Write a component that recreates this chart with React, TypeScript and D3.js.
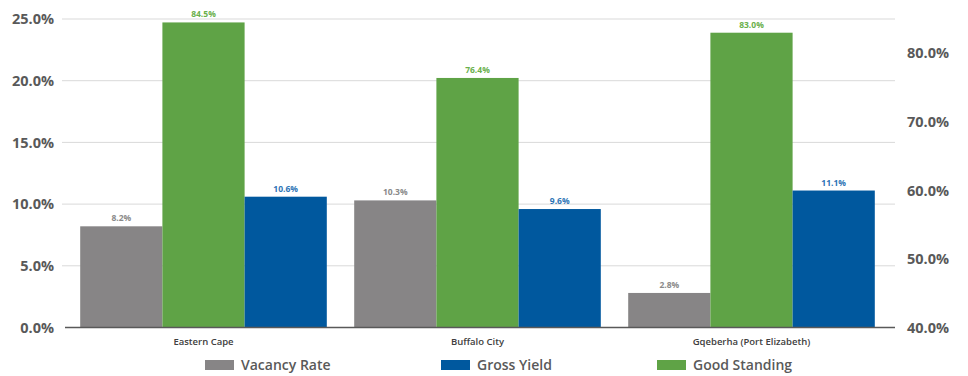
import React from "react";
import * as d3 from "d3";

const categories = ["Eastern Cape", "Buffalo City", "Gqeberha (Port Elizabeth)"];
const vacancyRate = [8.2, 10.3, 2.8];
const goodStanding = [84.5, 76.4, 83.0];
const grossYield = [10.6, 9.6, 11.1];
const leftTicks = [0, 5, 10, 15, 20, 25];
const rightTicks = [40, 50, 60, 70, 80];

const W = 968;
const H = 376;
const FONT = "'Open Sans', sans-serif";

const GRAY = "#878586";
const GREEN = "#5fa346";
const BLUE = "#00589e";

export default function App() {
  const x0 = d3.scaleBand<string>().domain(categories).range([66.5, 888.5]).paddingInner(0.1).paddingOuter(0.05);
  const series = [
    { key: "vac", values: vacancyRate, color: GRAY, label: "#8a8a8a", axis: "left" },
    { key: "good", values: goodStanding, color: GREEN, label: "#6ab04c", axis: "right" },
    { key: "gross", values: grossYield, color: BLUE, label: "#2e75b6", axis: "left" },
  ];
  const x1 = d3.scaleBand<string>().domain(series.map((s) => s.key)).range([0, x0.bandwidth()]).padding(0);
  const yL = d3.scaleLinear().domain([0, 25]).range([327.5, 19]);
  const yR = d3.scaleLinear().domain([40, 85]).range([327.5, 19]);
  const fmt = (v: number) => d3.format(".1f")(v) + "%";

  const legend = [
    { name: "Vacancy Rate", color: GRAY, x: 205 },
    { name: "Gross Yield", color: BLUE, x: 441 },
    { name: "Good Standing", color: GREEN, x: 657 },
  ];

  return (
    <div style={{ position: "absolute", left: 0, top: 0 }}>
      <svg width={W} height={H} style={{ display: "block", background: "#fff" }}>
        {leftTicks.filter((t) => t > 0).map((t) => (
          <line key={t} x1={62} x2={895} y1={yL(t)} y2={yL(t)} stroke="#d9d9d9" strokeWidth={1} />
        ))}
        {categories.map((c, i) => (
          <g key={c} transform={`translate(${x0(c)},0)`}>
            {series.map((s) => {
              const y = s.axis === "left" ? yL : yR;
              const v = s.values[i];
              const top = y(v);
              const bx = x1(s.key) as number;
              return (
                <g key={s.key}>
                  <rect x={bx} y={top} width={x1.bandwidth()} height={327.5 - top} fill={s.color} />
                  <text
                    x={bx + x1.bandwidth() / 2}
                    y={top - 5}
                    textAnchor="middle"
                    fontFamily={FONT}
                    fontWeight={700}
                    fontSize={8.5}
                    fill={s.label}
                  >
                    {fmt(v)}
                  </text>
                </g>
              );
            })}
            <text
              x={x0.bandwidth() / 2}
              y={344.5}
              textAnchor="middle"
              fontFamily={FONT}
              fontWeight={600}
              fontSize={9.5}
              fill="#404040"
            >
              {c}
            </text>
          </g>
        ))}
        <line x1={65} x2={895} y1={327.5} y2={327.5} stroke="#595959" strokeWidth={1.5} />
        {leftTicks.map((t) => (
          <text
            key={t}
            x={54}
            y={yL(t)}
            dy="0.36em"
            textAnchor="end"
            fontFamily={FONT}
            fontWeight={700}
            fontSize={14.5}
            fill="#595959"
          >
            {fmt(t)}
          </text>
        ))}
        {rightTicks.map((t) => (
          <text
            key={t}
            x={907}
            y={yR(t)}
            dy="0.36em"
            textAnchor="start"
            fontFamily={FONT}
            fontWeight={700}
            fontSize={14.5}
            fill="#595959"
          >
            {fmt(t)}
          </text>
        ))}
        {legend.map((l) => (
          <g key={l.name}>
            <rect x={l.x} y={360} width={29} height={10} fill={l.color} />
            <text
              x={l.x + 36}
              y={365}
              dy="0.36em"
              fontFamily={FONT}
              fontWeight={600}
              fontSize={14}
              fill="#595959"
            >
              {l.name}
            </text>
          </g>
        ))}
      </svg>
    </div>
  );
}
